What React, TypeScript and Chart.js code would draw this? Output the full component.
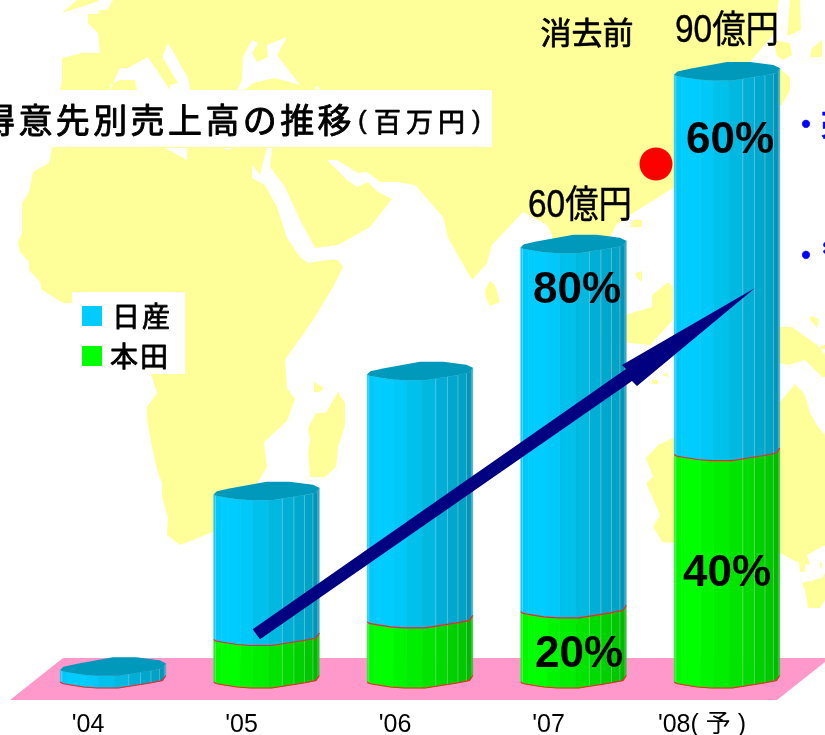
import React, { useEffect, useRef } from "react";
import { Chart, registerables } from "chart.js";

Chart.register(...registerables);

// ---- data ----
const categories = ["'04", "'05", "'06", "'07", "'08( 予 )"];
const hondaValues = [0, 630, 890, 1040, 3370];
const nissanValues = [180, 2150, 3670, 5400, 5630];
const hondaShares = ["", "", "", "20%", "40%"];
const nissanShares = ["", "", "", "80%", "60%"];
const totalLabels = ["", "", "", "60億円", "90億円"];
const seriesNames = ["本田", "日産"];

// ---- styling ----
const JP = '"Noto Sans CJK JP"';
const LAT = '"Liberation Sans","Noto Sans CJK JP"';
const YELLOW = "#FFFF99";
const BLUE_FACETS = ["#18C8F0", "#00C8FA", "#00CCFF", "#00CCFF", "#00C8F8", "#00C0EC", "#00B8E0", "#00AED6", "#00A8CE", "#00A2C6", "#0096BA", "#3FA8C4"];
const GREEN_FACETS = ["#20F020", "#00F800", "#00FF00", "#00FF00", "#00F600", "#00EE00", "#00E400", "#00DA00", "#00D000", "#00C800", "#00BA00", "#30C030"];
const FACET_T = [0, 0.015, 0.07, 0.13, 0.25, 0.37, 0.52, 0.65, 0.76, 0.86, 0.94, 0.985, 1];
const EDGE_T = [0.015, 0.65, 0.76, 0.86, 0.94];
const FRONT: number[][] = [[0, 3], [0.02, 4.5], [0.1, 6], [0.22, 8], [0.35, 9], [0.55, 9], [0.7, 6.5], [0.85, 4], [0.97, 1.5], [1, -3.5]];
const BACK: number[][] = [[1, -3.5], [0.94, -6.5], [0.72, -9.5], [0.5, -9.5], [0.16, -3], [0.03, 0], [0, 3]];

const interp = (t: number) => {
  for (let i = 1; i < FRONT.length; i++) {
    if (t <= FRONT[i][0]) {
      const [a, b] = [FRONT[i - 1], FRONT[i]];
      return a[1] + ((b[1] - a[1]) * (t - a[0])) / (b[0] - a[0]);
    }
  }
  return FRONT[FRONT.length - 1][1];
};

// decorative world map behind the chart
const mapLand: number[][][] = [
  [[62, 13], [77, 0], [100, 0], [93, 3]],
  [[113, 0], [107, 10], [100, 10], [98, 14], [88, 14], [88, 23], [98, 33], [100, 53], [82, 53], [62, 58], [62, 80], [60, 90], [52, 148], [49, 163], [33, 172], [29, 192], [22, 203], [22, 233], [18, 242], [20, 252], [29, 262], [29, 270], [40, 282], [42, 290], [63, 303], [72, 303], [151, 374], [157, 393], [147, 407], [147, 420], [152, 447], [157, 470], [162, 483], [162, 497], [168, 518], [167, 535], [180, 545], [213, 532], [258, 482], [267, 467], [264, 442], [275, 432], [287, 421], [295, 399], [287, 388], [285, 360], [315, 317], [333, 287], [343, 267], [338, 260], [327, 260], [308, 263], [300, 257], [287, 238], [277, 207], [265, 185], [252, 178], [252, 165], [260, 175], [263, 163], [267, 148], [272, 148], [270, 167], [285, 187], [300, 220], [315, 248], [338, 245], [370, 227], [392, 199], [378, 192], [368, 182], [357, 187], [347, 180], [327, 160], [337, 160], [358, 173], [367, 172], [380, 182], [397, 182], [415, 185], [443, 217], [448, 238], [472, 280], [487, 263], [492, 245], [523, 212], [547, 225], [552, 235], [556, 270], [600, 260], [616, 225], [633, 213], [673, 188], [750, 62], [773, 35], [779, 0]],
  [[308, 428], [316, 413], [326, 413], [333, 400], [338, 392], [345, 403], [345, 425], [338, 448], [336, 467], [325, 477], [310, 477], [308, 453], [310, 440]],
  [[314, 382], [324, 388], [320, 392], [314, 392]],
  [[485, 290], [490, 281], [495, 285], [500, 302], [490, 306], [486, 298]],
  [[633, 220], [642, 220], [642, 227], [630, 227]],
  [[635, 273], [642, 271], [642, 282], [637, 278]],
  [[600, 322], [652, 307], [652, 295], [668, 282], [673, 287], [673, 320], [650, 345], [630, 343], [600, 340]],
  [[652, 380], [658, 380], [658, 384], [652, 384]],
  [[662, 375], [668, 372], [668, 377]],
  [[780, 327], [792, 327], [817, 345], [825, 355], [825, 377], [822, 377], [805, 360], [788, 365], [780, 363]],
  [[809, 318], [813, 316], [819, 320], [817, 328]],
  [[820, 346], [825, 345], [825, 349], [820, 349]],
  [[700, 400], [780, 402], [795, 384], [805, 395], [810, 413], [818, 427], [825, 435], [825, 545], [807, 555], [810, 565], [797, 562], [780, 553], [700, 545], [673, 543], [662, 542], [653, 527], [660, 515], [646, 483], [653, 477], [646, 458], [658, 445], [673, 438]],
  [[802, 583], [822, 578], [825, 573], [825, 600], [820, 608], [808, 608], [805, 590]],
  [[799, 563], [805, 563], [805, 572], [800, 572]],
  [[819, 563], [822, 563], [822, 570]],
  [[778, 67], [790, 77], [790, 90], [782, 105], [770, 105]],
  [[773, 40], [790, 43], [792, 55], [783, 60], [777, 56]],
  [[790, 0], [800, 0], [801, 30], [787, 36]],
  [[810, 57], [812, 48], [822, 40], [822, 57]],
];
const mapSea: number[][][] = [
  [[120, 68], [128, 68], [148, 57], [170, 90], [137, 90], [135, 80], [120, 80], [110, 85], [110, 90]],
  [[163, 55], [168, 43], [188, 78], [190, 90], [170, 90], [170, 85], [178, 83], [163, 58]],
  [[243, 57], [252, 40], [258, 43], [252, 53], [257, 62], [268, 57], [267, 45], [287, 37], [277, 55], [287, 68], [300, 85], [275, 78], [253, 83], [245, 90], [237, 90], [242, 80]],
  [[313, 88], [318, 86], [320, 90]],
  [[165, 148], [187, 148], [187, 160]],
  [[223, 148], [233, 148], [227, 150]],
];

const poly = (ctx: CanvasRenderingContext2D, pts: number[][], fill: string) => {
  ctx.beginPath();
  pts.forEach((p, i) => (i ? ctx.lineTo(p[0], p[1]) : ctx.moveTo(p[0], p[1])));
  ctx.closePath();
  ctx.fillStyle = fill;
  ctx.fill();
};

const text = (
  ctx: CanvasRenderingContext2D,
  s: string,
  x: number,
  y: number,
  font: string,
  opts: { align?: CanvasTextAlign; color?: string; spacing?: string; heavy?: number; hscale?: number } = {}
) => {
  ctx.save();
  ctx.translate(x, y);
  ctx.scale(opts.hscale || 1, 1);
  ctx.font = font;
  ctx.textAlign = opts.align || "center";
  ctx.textBaseline = "middle";
  ctx.fillStyle = opts.color || "#000";
  (ctx as any).letterSpacing = opts.spacing || "0px";
  ctx.fillText(s, 0, 0);
  if (opts.heavy) {
    ctx.strokeStyle = opts.color || "#000";
    ctx.lineWidth = opts.heavy;
    ctx.lineJoin = "round";
    ctx.strokeText(s, 0, 0);
  }
  ctx.restore();
};

const drawSegment = (
  ctx: CanvasRenderingContext2D,
  el: { x: number; y: number; base: number; width: number },
  colors: string[]
) => {
  const left = el.x - el.width / 2;
  const X = (t: number) => left + t * el.width;
  for (let i = 0; i < colors.length; i++) {
    const a = FACET_T[i];
    const b = FACET_T[i + 1];
    const ts = [a, ...FRONT.map((p) => p[0]).filter((t) => t > a && t < b), b];
    const top = ts.map((t) => [X(t), el.y + interp(t)]);
    const bot = ts.map((t) => [X(t), el.base + interp(t)]).reverse();
    const pts = [...top, ...bot];
    ctx.save();
    ctx.strokeStyle = colors[i];
    ctx.lineWidth = 0.6;
    poly(ctx, pts, colors[i]);
    ctx.stroke();
    ctx.restore();
  }
  ctx.strokeStyle = "rgba(255,255,255,0.28)";
  ctx.lineWidth = 1;
  EDGE_T.forEach((t) => {
    ctx.beginPath();
    ctx.moveTo(X(t), el.y + interp(t));
    ctx.lineTo(X(t), el.base + interp(t));
    ctx.stroke();
  });
};

const redCurve = (ctx: CanvasRenderingContext2D, el: any, y: number) => {
  const left = el.x - el.width / 2;
  ctx.beginPath();
  FRONT.forEach((p, i) => {
    const px = left + p[0] * el.width;
    const py = y + p[1];
    if (i) ctx.lineTo(px, py);
    else ctx.moveTo(px, py);
  });
  ctx.strokeStyle = "#FF2020";
  ctx.lineWidth = 1.2;
  ctx.stroke();
};

const backdropPlugin = {
  id: "backdrop",
  beforeDraw(chart: any) {
    const ctx: CanvasRenderingContext2D = chart.ctx;
    ctx.save();
    ctx.fillStyle = "#fff";
    ctx.fillRect(0, 0, 825, 735);
    mapLand.forEach((p) => poly(ctx, p, YELLOW));
    mapSea.forEach((p) => poly(ctx, p, "#fff"));
    // blue bullets running off the right edge
    text(ctx, "・売", 791, 124, `bold 30px ${JP}`, { align: "left", color: "#0000FF", heavy: 0.6 });
    text(ctx, "・’", 791, 255, `bold 30px ${JP}`, { align: "left", color: "#0000FF", heavy: 0.6 });
    // floor
    poly(ctx, [[63, 658], [830, 658], [777, 700], [10, 700]], "#FF99CC");
    // red dot
    ctx.beginPath();
    ctx.arc(656, 164, 16.5, 0, Math.PI * 2);
    ctx.fillStyle = "#FF0000";
    ctx.fill();
    ctx.restore();
  },
};

const cylinderPlugin = {
  id: "cylinders",
  afterDatasetsDraw(chart: any) {
    const ctx: CanvasRenderingContext2D = chart.ctx;
    const green = chart.getDatasetMeta(0).data;
    const blue = chart.getDatasetMeta(1).data;
    ctx.save();
    blue.forEach((b: any, i: number) => {
      const bEl = b.getProps(["x", "y", "base", "width"], true);
      const gEl = green[i].getProps(["x", "y", "base", "width"], true);
      const hasGreen = Math.abs(gEl.base - gEl.y) > 0.5;
      if (hasGreen) drawSegment(ctx, gEl, GREEN_FACETS);
      drawSegment(ctx, bEl, BLUE_FACETS);
      redCurve(ctx, gEl, gEl.base);
      if (hasGreen) redCurve(ctx, gEl, gEl.y);
      const left = bEl.x - bEl.width / 2;
      const cap = [...FRONT, ...BACK].map((p) => [left + p[0] * bEl.width, bEl.y + p[1]]);
      poly(ctx, cap, "#0099BB");
    });

    // rising arrow
    poly(ctx, [[252.7, 629.3], [626, 369], [622, 365], [755, 288], [637, 386], [632, 381], [260, 639.3]], "#000080");

    // labels
    const pctFont = `bold 44px ${LAT}`;
    const pct = { "60%": [730, 141], "80%": [577, 291], "20%": [579, 655], "40%": [727, 574] } as Record<string, number[]>;
    [...hondaShares, ...nissanShares].forEach((s) => {
      if (s) text(ctx, s, pct[s][0], pct[s][1], pctFont);
    });
    const tot = [[0, 0], [0, 0], [0, 0], [580, 207], [727, 32]];
    totalLabels.forEach((s, i) => {
      if (s) text(ctx, s, tot[i][0], tot[i][1], `38px ${LAT}`, { hscale: 0.88, heavy: 0.4 });
    });
    text(ctx, "消去前", 587, 32, `31px ${JP}`, { heavy: 0.7 });

    // title
    ctx.fillStyle = "#fff";
    ctx.fillRect(0, 90, 492, 57);
    text(ctx, "得意先別売上高の推移", -19, 120, `34px ${JP}`, { align: "left", spacing: "3.4px", heavy: 0.9 });
    text(ctx, "(", 358, 122, `26px ${LAT}`, { align: "left", heavy: 0.5 });
    text(ctx, "百万円", 374, 122, `27px ${JP}`, { align: "left", spacing: "5px", heavy: 0.8 });
    text(ctx, ")", 472, 122, `26px ${LAT}`, { align: "left", heavy: 0.5 });

    // legend
    ctx.fillStyle = "#fff";
    ctx.fillRect(72, 292, 113, 82);
    ctx.fillStyle = "#00CCFF";
    ctx.fillRect(82, 306, 20, 20);
    ctx.fillStyle = "#00FF00";
    ctx.fillRect(82, 346, 20, 20);
    text(ctx, seriesNames[1], 112, 316, `28px ${JP}`, { align: "left", spacing: "2px", heavy: 0.8 });
    text(ctx, seriesNames[0], 110, 356, `28px ${JP}`, { align: "left", spacing: "2px", heavy: 0.8 });
    ctx.restore();
  },
};

export default function App() {
  const ref = useRef<HTMLCanvasElement>(null);
  useEffect(() => {
    document.body.style.margin = "0";
    const chart = new Chart(ref.current!, {
      type: "bar",
      data: {
        labels: categories,
        datasets: [
          { label: seriesNames[0], data: hondaValues, backgroundColor: "transparent", borderWidth: 0 },
          { label: seriesNames[1], data: nissanValues, backgroundColor: "transparent", borderWidth: 0 },
        ],
      },
      options: {
        responsive: false,
        animation: false,
        layout: { padding: { left: 36.25, right: 21.25, top: 71.5, bottom: 0 } },
        datasets: { bar: { categoryPercentage: 1, barPercentage: 0.687 } },
        plugins: { legend: { display: false }, title: { display: false }, tooltip: { enabled: false } },
        scales: {
          x: {
            stacked: true,
            grid: { display: false, drawTicks: false },
            border: { display: false },
            afterFit: (s: any) => {
              s.height = 56;
            },
            ticks: {
              maxRotation: 0,
              autoSkip: false,
              labelOffset: -25,
              padding: 31,
              color: "#000",
              font: { family: LAT, size: 25 },
            },
          },
          y: { stacked: true, display: false, min: 0, max: 9000 },
        },
      },
      plugins: [backdropPlugin, cylinderPlugin],
    } as any);
    return () => chart.destroy();
  }, []);
  return <canvas ref={ref} width={825} height={735} style={{ display: "block", position: "fixed", left: 0, top: 0 }} />;
}
